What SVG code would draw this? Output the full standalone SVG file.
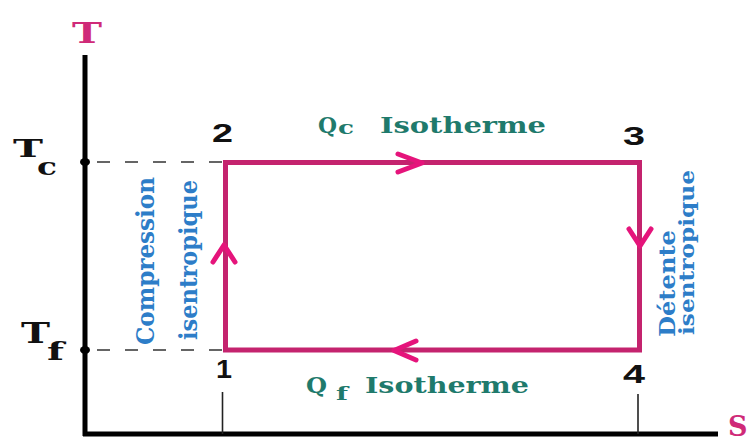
<svg xmlns="http://www.w3.org/2000/svg" width="753" height="441" viewBox="0 0 753 441">
<style>
.ser{font-family:"DejaVu Serif","Liberation Serif",serif;font-weight:bold}
.num{font-family:"Liberation Sans",Arial,sans-serif;font-weight:bold;font-size:26px;fill:#111}
.teal{fill:#1f7a6c}
.blue{fill:#2d7dc8}
.mag{fill:#cf2a78}
.dash{stroke:#333;stroke-width:1.6;stroke-dasharray:13 15;fill:none}
.tick{stroke:#222;stroke-width:1.6}
.arr{fill:none;stroke:#e5147b;stroke-width:5;stroke-linecap:round;stroke-linejoin:round}
</style>
<rect width="753" height="441" fill="#ffffff"/>
<g id="axes">
<line x1="85" y1="55" x2="85" y2="436" stroke="#000" stroke-width="5"/>
<line x1="83" y1="434" x2="718" y2="434" stroke="#000" stroke-width="5"/>
<text class="ser mag" x="72" y="43" font-size="27" textLength="30" lengthAdjust="spacingAndGlyphs">T</text>
<text class="ser mag" x="728" y="436" font-size="27">S</text>
</g>
<g id="Tc">
<ellipse cx="85" cy="162" rx="5" ry="4" fill="#000"/>
<line class="dash" x1="97" y1="162" x2="225" y2="162"/>
<text class="ser" x="13" y="157" font-size="24" fill="#111" textLength="30" lengthAdjust="spacingAndGlyphs">T</text>
<text class="ser" x="37" y="175" font-size="24" fill="#111" textLength="20" lengthAdjust="spacingAndGlyphs">c</text>
</g>
<g id="Tf">
<ellipse cx="85" cy="350" rx="5" ry="4" fill="#000"/>
<line class="dash" x1="97" y1="350" x2="225" y2="350"/>
<text class="ser" x="21" y="343" font-size="27" fill="#111" textLength="29" lengthAdjust="spacingAndGlyphs">T</text>
<text class="ser" x="47" y="360" font-size="25" fill="#111" textLength="17" lengthAdjust="spacingAndGlyphs">f</text>
</g>
<g id="ticks">
<line class="tick" x1="222.5" y1="392" x2="222.5" y2="434"/>
<line class="tick" x1="638" y1="394" x2="638" y2="434"/>
</g>
<g id="connectors">
<rect x="225.5" y="162.5" width="414" height="187.5" fill="none" stroke="#c4236e" stroke-width="5"/>
<polyline class="arr" points="398,154 422,163 398,172"/>
<polyline class="arr" points="629,229 640,246 651,229"/>
<polyline class="arr" points="213,262 224,245 235,262"/>
<polyline class="arr" points="416,341 394,350.5 416,360"/>
</g>
<g id="n2"><text class="num" x="212" y="142" textLength="21" lengthAdjust="spacingAndGlyphs">2</text></g>
<g id="n3"><text class="num" x="623" y="145" textLength="22" lengthAdjust="spacingAndGlyphs">3</text></g>
<g id="n1"><text class="num" x="216" y="378" textLength="16" lengthAdjust="spacingAndGlyphs">1</text></g>
<g id="n4"><text class="num" x="623" y="383" textLength="22" lengthAdjust="spacingAndGlyphs">4</text></g>
<g id="Qc">
<text class="ser teal" x="318" y="133" font-size="23" textLength="19" lengthAdjust="spacingAndGlyphs">Q</text>
<text class="ser teal" x="338" y="134" font-size="18" textLength="16" lengthAdjust="spacingAndGlyphs">c</text>
<text class="ser teal" x="380" y="133" font-size="22" textLength="166" lengthAdjust="spacingAndGlyphs">Isotherme</text>
</g>
<g id="Qf">
<text class="ser teal" x="306" y="393" font-size="23" textLength="21" lengthAdjust="spacingAndGlyphs">Q</text>
<text class="ser teal" x="336" y="400" font-size="19" textLength="12" lengthAdjust="spacingAndGlyphs">f</text>
<text class="ser teal" x="365" y="393" font-size="22" textLength="164" lengthAdjust="spacingAndGlyphs">Isotherme</text>
</g>
<g id="compression">
<text class="ser blue" font-size="24" transform="translate(154,345) rotate(-90)" textLength="168" lengthAdjust="spacingAndGlyphs">Compression</text>
<text class="ser blue" font-size="24" transform="translate(197,340) rotate(-90)" textLength="160" lengthAdjust="spacingAndGlyphs">isentropique</text>
</g>
<g id="detente">
<text class="ser blue" font-size="22" transform="translate(675,337) rotate(-90)" textLength="107" lengthAdjust="spacingAndGlyphs">Détente</text>
<text class="ser blue" font-size="20" transform="translate(694,335) rotate(-90)" textLength="165" lengthAdjust="spacingAndGlyphs">isentropique</text>
</g>
</svg>
